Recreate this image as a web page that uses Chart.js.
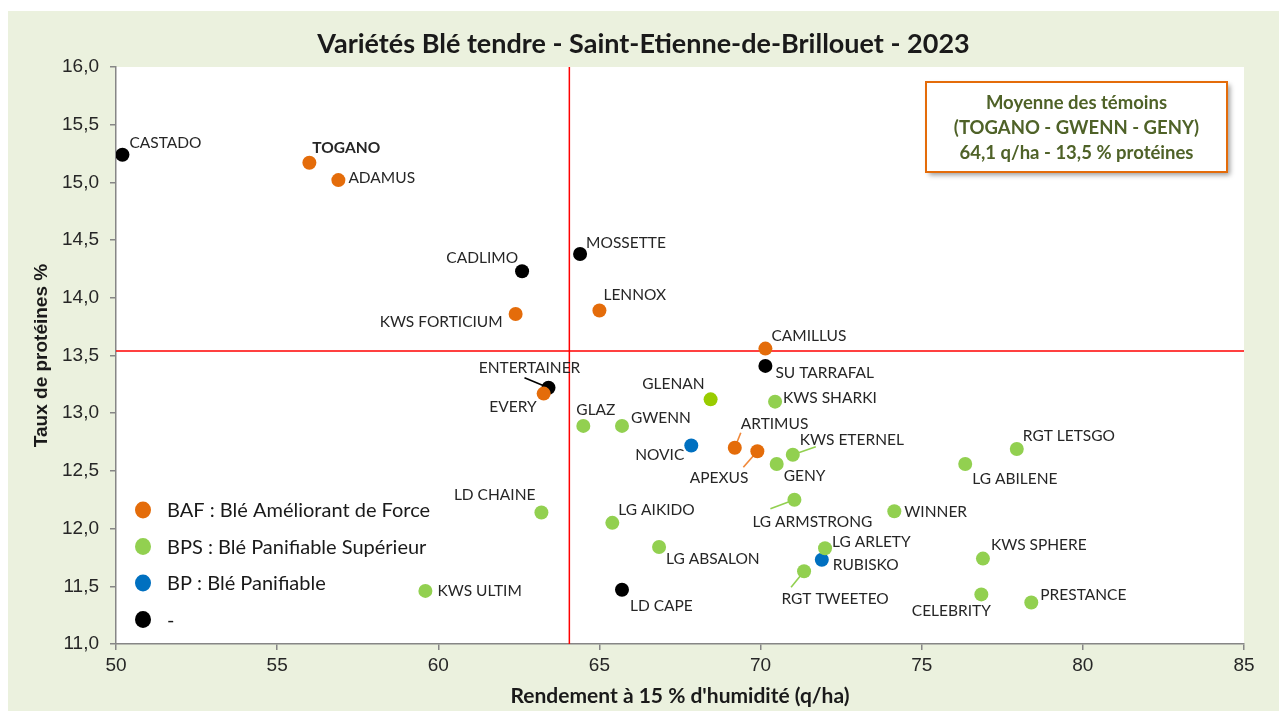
<!DOCTYPE html>
<html lang="fr">
<head>
<meta charset="utf-8">
<title>Variétés Blé tendre - Saint-Etienne-de-Brillouet - 2023</title>
<script src="https://cdn.jsdelivr.net/npm/chart.js@4.4.1/dist/chart.umd.min.js"></script>
<style>
  body { margin: 0; background: #fff; }
  #wrap { position: absolute; left: 8px; top: 11px; width: 1271px; height: 700px; background: #ebf1de; }
</style>
</head>
<body>
<div id="wrap"><canvas id="chart"></canvas></div>
<script>
// Variétés, rendement (q/ha) et taux de protéines (%)
const varietes = ['TOGANO', 'ADAMUS', 'KWS FORTICIUM', 'LENNOX', 'CAMILLUS', 'EVERY', 'ARTIMUS', 'APEXUS',
  'GLAZ', 'GWENN', 'GLENAN', 'KWS SHARKI', 'KWS ETERNEL', 'GENY', 'LG ABILENE', 'RGT LETSGO', 'LG ARMSTRONG',
  'WINNER', 'LD CHAINE', 'LG AIKIDO', 'LG ABSALON', 'LG ARLETY', 'RGT TWEETEO', 'KWS SPHERE', 'CELEBRITY',
  'PRESTANCE', 'KWS ULTIM',
  'NOVIC', 'RUBISKO',
  'CASTADO', 'CADLIMO', 'MOSSETTE', 'ENTERTAINER', 'SU TARRAFAL', 'LD CAPE'];
const rendement = [56.0, 56.9, 62.4, 65.0, 70.15, 63.27, 69.2, 69.9,
  64.5, 65.7, 68.45, 70.45, 71.0, 70.5, 76.35, 77.95, 71.05,
  74.15, 63.2, 65.4, 66.85, 72.0, 71.35, 76.9, 76.85,
  78.4, 59.6,
  67.85, 71.9,
  50.2, 62.6, 64.4, 63.42, 70.15, 65.7];
const proteines = [15.17, 15.02, 13.86, 13.89, 13.56, 13.17, 12.7, 12.67,
  12.89, 12.89, 13.12, 13.1, 12.64, 12.56, 12.56, 12.69, 12.25,
  12.15, 12.14, 12.05, 11.84, 11.83, 11.63, 11.74, 11.43,
  11.36, 11.46,
  12.72, 11.73,
  15.24, 14.23, 14.38, 13.22, 13.41, 11.47];
const classes = ['BAF', 'BAF', 'BAF', 'BAF', 'BAF', 'BAF', 'BAF', 'BAF',
  'BPS', 'BPS', 'BPS', 'BPS', 'BPS', 'BPS', 'BPS', 'BPS', 'BPS',
  'BPS', 'BPS', 'BPS', 'BPS', 'BPS', 'BPS', 'BPS', 'BPS',
  'BPS', 'BPS',
  'BP', 'BP',
  '-', '-', '-', '-', '-', '-'];
const temoins = ['TOGANO', 'GWENN', 'GENY'];

const titre = 'Variétés Blé tendre - Saint-Etienne-de-Brillouet - 2023';
const classCodes = ['BAF', 'BPS', 'BP', '-'];
const classLabels = ['BAF : Blé Améliorant de Force', 'BPS : Blé Panifiable Supérieur', 'BP : Blé Panifiable', '-'];
const classColors = ['#e46c0a', '#92d050', '#0070c0', '#000000'];
const pointColors = { 'GLENAN': '#99cc00' };

// position of each label relative to its point : [dx, dy, align]
const labelPos = {
  'CASTADO': [7, -12, 'left'], 'TOGANO': [3, -15, 'left'], 'ADAMUS': [10, -2, 'left'],
  'CADLIMO': [-4, -13, 'right'], 'KWS FORTICIUM': [-13, 8, 'right'], 'MOSSETTE': [6, -11, 'left'],
  'LENNOX': [4, -15, 'left'], 'CAMILLUS': [6, -13, 'left'], 'ENTERTAINER': [-19, -20, 'center'],
  'EVERY': [-7, 13, 'right'], 'GLAZ': [-7, -16, 'left'], 'GWENN': [9, -8, 'left'],
  'NOVIC': [-7, 9, 'right'], 'GLENAN': [-6, -15, 'right'], 'SU TARRAFAL': [10, 7, 'left'],
  'KWS SHARKI': [8, -4, 'left'], 'ARTIMUS': [6, -24, 'left'], 'APEXUS': [-9, 27, 'right'],
  'KWS ETERNEL': [7, -15, 'left'], 'GENY': [7, 12, 'left'], 'RGT LETSGO': [6, -13, 'left'],
  'LG ABILENE': [7, 15, 'left'], 'LG ARMSTRONG': [18, 22, 'center'], 'WINNER': [10, 1, 'left'],
  'LD CHAINE': [-6, -17, 'right'], 'LG AIKIDO': [6, -13, 'left'], 'LG ABSALON': [7, 12, 'left'],
  'LG ARLETY': [7, -6, 'left'], 'RUBISKO': [11, 5, 'left'], 'RGT TWEETEO': [31, 28, 'center'],
  'KWS SPHERE': [8, -14, 'left'], 'CELEBRITY': [-30, 17, 'center'], 'PRESTANCE': [9, -7, 'left'],
  'KWS ULTIM': [12, 0, 'left'], 'LD CAPE': [8, 16, 'left']
};
// leader lines : end point relative to the marker
const leaders = {
  'ENTERTAINER': [-24, -10], 'ARTIMUS': [6, -15], 'APEXUS': [-14, 16],
  'KWS ETERNEL': [23, -8], 'LG ARMSTRONG': [-24, 9], 'RGT TWEETEO': [-13, 16]
};
const leaderColors = { 'ARTIMUS': '#f0883a', 'APEXUS': '#f0883a' };
const boldLabels = ['TOGANO'];

function fmt(v) {
  return v.toFixed(1).replace('.', ',');
}

// moyenne des témoins
const ti = temoins.map(t => varietes.indexOf(t));
const moyRdt = ti.reduce((s, i) => s + rendement[i], 0) / ti.length;
const moyProt = ti.reduce((s, i) => s + proteines[i], 0) / ti.length;

const xMin = 50, xMax = 85, yMin = 11, yMax = 16;

const datasets = classCodes.map((code, k) => {
  const idx = varietes.map((v, i) => i).filter(i => classes[i] === code);
  return {
    label: classLabels[k],
    data: idx.map(i => ({ x: rendement[i], y: proteines[i], name: varietes[i] })),
    backgroundColor: idx.map(i => pointColors[varietes[i]] || classColors[k]),
    pointRadius: 7,
    pointHoverRadius: 7,
    borderWidth: 0,
    order: k
  };
});
datasets.push({
  data: [{ x: moyRdt, y: yMin }, { x: moyRdt, y: yMax }],
  showLine: true, borderColor: '#ff0000', borderWidth: 1.5, pointRadius: 0, order: 10, isMean: true
});
datasets.push({
  data: [{ x: xMin, y: moyProt }, { x: xMax, y: moyProt }],
  showLine: true, borderColor: '#ff0000', borderWidth: 1.5, pointRadius: 0, order: 10, isMean: true
});

const decor = {
  id: 'decor',
  beforeDraw(chart) {
    const { ctx, chartArea: a } = chart;
    ctx.save();
    ctx.fillStyle = '#ffffff';
    ctx.fillRect(a.left, a.top, a.right - a.left, a.bottom - a.top);
    // titre, centré sur le cadre
    ctx.fillStyle = '#1a1a1a';
    ctx.font = 'bold 27px Lato';
    ctx.textAlign = 'center';
    ctx.textBaseline = 'middle';
    ctx.fillText(titre, chart.width / 2, 33);
    ctx.restore();
  },
  beforeDatasetsDraw(chart) {
    const ctx = chart.ctx;
    ctx.save();
    ctx.lineWidth = 1.6;
    chart.data.datasets.forEach((ds, di) => {
      if (ds.isMean) return;
      const meta = chart.getDatasetMeta(di);
      meta.data.forEach((pt, j) => {
        const name = ds.data[j].name;
        const l = leaders[name];
        if (!l) return;
        ctx.strokeStyle = leaderColors[name] || ds.backgroundColor[j];
        ctx.beginPath();
        ctx.moveTo(pt.x, pt.y);
        ctx.lineTo(pt.x + l[0], pt.y + l[1]);
        ctx.stroke();
      });
    });
    ctx.restore();
  },
  afterDatasetsDraw(chart) {
    const { ctx, chartArea: a } = chart;
    ctx.save();
    // labels des points
    ctx.fillStyle = '#262626';
    ctx.textBaseline = 'middle';
    chart.data.datasets.forEach((ds, di) => {
      if (ds.isMean) return;
      const meta = chart.getDatasetMeta(di);
      meta.data.forEach((pt, j) => {
        const name = ds.data[j].name;
        const p = labelPos[name] || [8, 0, 'left'];
        ctx.font = (boldLabels.includes(name) ? 'bold ' : '') + '15.5px Lato';
        ctx.textAlign = p[2];
        ctx.fillText(name, pt.x + p[0], pt.y + p[1]);
      });
    });

    // légende
    const lx = a.left + 27, ly = a.bottom - 134;
    classLabels.forEach((lab, k) => {
      const y = ly + k * 36.5;
      ctx.fillStyle = classColors[k];
      ctx.beginPath();
      ctx.ellipse(lx, y, 8, 8.5, 0, 0, Math.PI * 2);
      ctx.fill();
      ctx.fillStyle = '#1a1a1a';
      ctx.font = '20px Lato';
      ctx.textAlign = 'left';
      ctx.fillText(lab, lx + 24, y + 1);
    });

    // encadré moyenne
    const bx = a.right - 318, by = a.top + 15, bw = 301, bh = 90;
    ctx.shadowColor = 'rgba(0,0,0,0.4)';
    ctx.shadowBlur = 5;
    ctx.shadowOffsetX = 3;
    ctx.shadowOffsetY = 3;
    ctx.fillStyle = '#ffffff';
    ctx.fillRect(bx, by, bw, bh);
    ctx.shadowColor = 'transparent';
    ctx.strokeStyle = '#e46c0a';
    ctx.lineWidth = 2;
    ctx.strokeRect(bx, by, bw, bh);
    ctx.fillStyle = '#4f6228';
    ctx.font = 'bold 18.5px Lato';
    ctx.textAlign = 'center';
    const lines = ['Moyenne des témoins', '(' + temoins.join(' - ') + ')',
      fmt(moyRdt) + ' q/ha - ' + fmt(moyProt) + ' % protéines'];
    lines.forEach((t, i) => ctx.fillText(t, bx + bw / 2, by + 21 + i * 25));
    ctx.restore();
  }
};

new Chart(document.getElementById('chart'), {
  type: 'scatter',
  data: { datasets: datasets },
  options: {
    responsive: true,
    maintainAspectRatio: false,
    animation: false,
    layout: { padding: { left: 0, right: 35, top: 56, bottom: 0 } },
    plugins: {
      legend: { display: false },
      tooltip: { enabled: false },
      title: { display: false }
    },
    scales: {
      x: {
        min: xMin, max: xMax,
        ticks: { stepSize: 5, color: '#262626', font: { family: 'Liberation Sans', size: 19 }, padding: 4 },
        grid: { drawOnChartArea: false, drawTicks: true, tickLength: 6, color: '#868686', lineWidth: 1.5 },
        border: { color: '#868686', width: 1.5 },
        title: {
          display: true,
          text: "Rendement à 15 % d'humidité (q/ha)",
          color: '#1a1a1a',
          font: { family: 'Lato', size: 21, weight: 'bold', lineHeight: 1.2 },
          padding: { top: 0, bottom: 2 }
        },
        afterFit(s) { s.height = 67; }
      },
      y: {
        min: yMin, max: yMax,
        ticks: { stepSize: 0.5, color: '#262626', font: { family: 'Liberation Sans', size: 19 }, padding: 11,
          callback: v => fmt(v) },
        grid: { drawOnChartArea: false, drawTicks: true, tickLength: 6, color: '#868686', lineWidth: 1.5 },
        border: { color: '#868686', width: 1.5 },
        title: {
          display: true,
          text: 'Taux de protéines %',
          color: '#1a1a1a',
          font: { family: 'Liberation Sans', size: 19, weight: 'bold', lineHeight: 1.2 },
          padding: { top: 22, bottom: 0 }
        },
        afterFit(s) { s.width = 108; }
      }
    }
  },
  plugins: [decor]
});
</script>
</body>
</html>
